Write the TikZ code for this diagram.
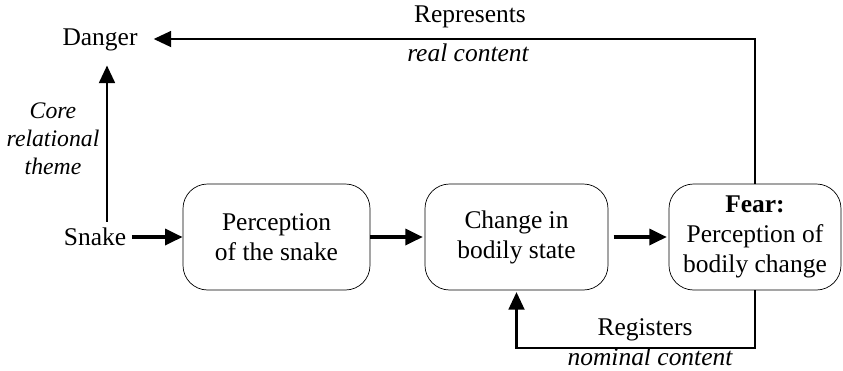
\documentclass[tikz,border=0pt]{standalone}
\usepackage{fontspec}
\setmainfont{Liberation Serif}
\usepackage{tikz}
\usetikzlibrary{positioning,calc,arrows.meta}

\begin{document}
\begin{tikzpicture}[x=0.02cm,y=-0.02cm,
        font=\fontsize{14.5}{17}\selectfont,
        stage/.style={draw,thin,rounded corners=14pt,minimum height=106*0.02cm,align=center,inner sep=2pt},
        arr/.style={line width=1.4pt,-{Triangle[length=10pt,width=9pt]}},
        fat/.style={line width=2.2pt,-{Triangle[length=10pt,width=9pt]}},
        tag/.style={inner sep=1pt,align=center}]
        \useasboundingbox (0,0) rectangle (843,370);

        % Nodes
        \node (danger) at (100,40) [inner xsep=9pt,inner ysep=8pt] {Danger};
        \node (snake) at (95,237) [inner xsep=3pt] {Snake};
        \node[stage,minimum width=187*0.02cm] (percept) at (276.5,237) {Perception\\of the snake};
        \node[stage,minimum width=183*0.02cm] (body) at (516.5,237) {Change in\\bodily state};
        \node[stage,minimum width=172*0.02cm] (fear) at (755,237) {\textbf{Fear:}\\Perception of\\bodily change};

        % Arrows
        \draw[arr] ([xshift=0.24cm]snake.north) -- ([xshift=0.24cm]snake.north |- danger.south);
        \draw[fat] (snake.east) -- (percept.west);
        \draw[fat] (percept.east) -- ([xshift=-1pt]body.west);
        \draw[fat] ([xshift=3pt]body.east) -- ([xshift=-1pt]fear.west);

        % Loops
        \coordinate (top) at (755,39);
        \coordinate (bot) at (755,348);
        \draw[arr] (fear.north) -- (top) -- (top -| danger.east);
        \draw[arr] (fear.south) -- (bot) -- (bot -| body.south) -- ([yshift=-1pt]body.south);

        % Labels
        \node[tag] (repr) at (470,17) {Represents};
        \node[tag] (real) at (468,53) {\itshape real content};
        \node[tag] (regs) at (645,330) {Registers};
        \node[tag] (nomi) at (650,357) {\itshape nominal content};
        \node[tag,font=\fontsize{13.5}{16}\selectfont\itshape] (core) at (53,139) {Core\\relational\\theme};

    \end{tikzpicture}
\end{document}
